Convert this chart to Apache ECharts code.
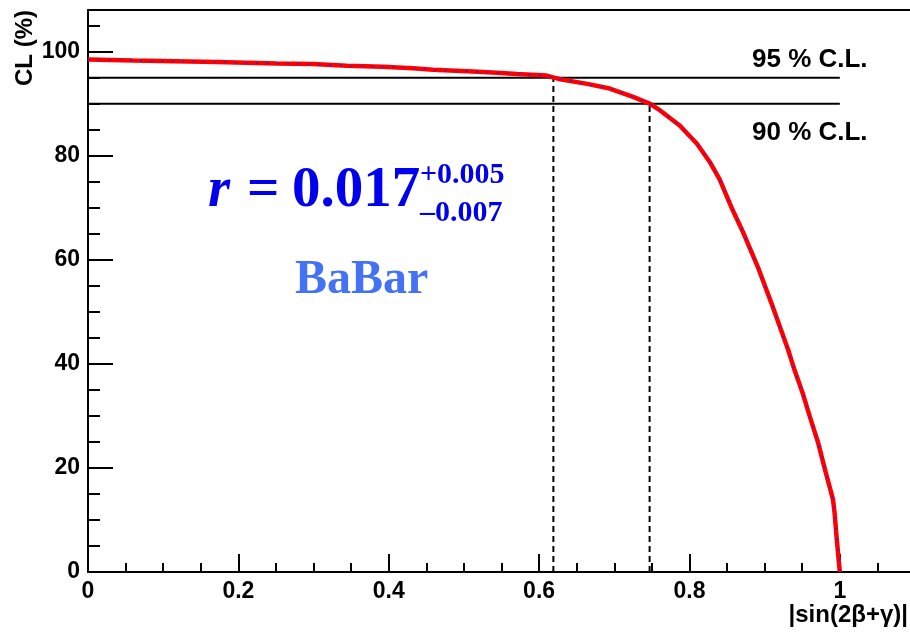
<!DOCTYPE html>
<html><head><meta charset="utf-8">
<script src="https://cdn.jsdelivr.net/npm/echarts@6/dist/echarts.min.js"></script>
<style>html,body{margin:0;padding:0;background:#fff;overflow:hidden}#c{width:915px;height:633px}</style>
</head><body><div id="c"></div>
<script>
// ---- data ----
const sinValues = [0.000, 0.060, 0.171, 0.251, 0.299, 0.344, 0.392, 0.432, 0.459, 0.512, 0.544, 0.570, 0.610, 0.620,
  0.628, 0.664, 0.694, 0.725, 0.747, 0.761, 0.787, 0.810, 0.827, 0.840, 0.857, 0.871, 0.891, 0.911, 0.931, 0.940,
  0.951, 0.960, 0.971, 0.981, 0.991, 0.993, 0.996, 1.000];
const clValues = [98.5, 98.3, 98.0, 97.7, 97.6, 97.3, 97.1, 96.8, 96.5, 96.2, 95.95, 95.7, 95.4, 95.0,
  94.7, 93.8, 92.9, 91.3, 90.0, 88.7, 85.8, 82.3, 78.8, 75.5, 69.7, 65.4, 58.6, 50.9, 42.8, 38.7,
  34.2, 29.9, 24.9, 19.3, 13.9, 11.4, 6.2, 0.0];
const clLevels = [95, 90];
const clLevelLabels = ['95 % C.L.', '90 % C.L.'];
const limitValues = [0.619, 0.747];
const xRange = [0, 1.1], yRange = [0, 108];
const xMajor = 0.2, xMinor = 0.05, yMajor = 20, yMinor = 5;
const xTitle = '|sin(2\u03B2+\u03B3)|';
const yTitle = 'CL (%)';
const fitText = { r: 'r', eq: '=', val: '0.017', up: '+0.005', down: '\u20130.007', exp: 'BaBar' };

// ---- chart ----
const chart = echarts.init(document.getElementById('c'), null, { renderer: 'canvas' });
const curve = sinValues.map((x, i) => [x, clValues[i]]);
const sansB = '"Liberation Sans", Arial, sans-serif';
const serif = '"Liberation Serif", "Times New Roman", serif';
const gridPos = { left: 88, top: 10, right: 0, bottom: 61 };

const series = [
  { type: 'line', xAxisIndex: 0, yAxisIndex: 0, data: curve, showSymbol: false, silent: true,
    lineStyle: { color: '#ff0000', width: 4.5 }, z: 5 },
  { type: 'line', xAxisIndex: 0, yAxisIndex: 0, data: curve, showSymbol: false, silent: true,
    lineStyle: { color: '#1a1aff', width: 1.6, type: [1.5, 9] }, z: 6 }
];
clLevels.forEach(lv => series.push({ type: 'line', data: [[0, lv], [1, lv]], showSymbol: false, silent: true,
  lineStyle: { color: '#000', width: 2 }, z: 3 }));
limitValues.forEach((x, i) => series.push({ type: 'line', data: [[x, 0], [x, clLevels[i]]], showSymbol: false, silent: true,
  lineStyle: { color: '#000', width: 2, type: [6, 4] }, z: 3 }));

const option = {
  animation: false,
  backgroundColor: '#ffffff',
  grid: [Object.assign({}, gridPos), Object.assign({}, gridPos)],
  xAxis: [
    { type: 'value', gridIndex: 0, position: 'bottom', min: xRange[0], max: xRange[1], interval: xMajor,
      axisLine: { show: true, lineStyle: { color: '#000', width: 2 } },
      axisTick: { show: true, inside: true, length: 18, lineStyle: { color: '#000', width: 2 } },
      axisLabel: { show: true, color: '#000', fontFamily: sansB, fontWeight: 'bold', fontSize: 23, margin: 8,
        showMaxLabel: false },
      splitLine: { show: false } },
    { type: 'value', gridIndex: 0, position: 'top', min: xRange[0], max: xRange[1],
      axisLine: { show: true, lineStyle: { color: '#000', width: 2 } },
      axisTick: { show: false }, axisLabel: { show: false }, splitLine: { show: false } },
    { type: 'value', gridIndex: 1, position: 'bottom', min: xRange[0], max: xRange[1], interval: xMinor,
      axisLine: { show: false },
      axisTick: { show: true, inside: true, length: 9, lineStyle: { color: '#000', width: 2 } },
      axisLabel: { show: false }, splitLine: { show: false } }
  ],
  yAxis: [
    { type: 'value', gridIndex: 0, min: yRange[0], max: yRange[1], interval: yMajor,
      axisLine: { show: true, lineStyle: { color: '#000', width: 2 } },
      axisTick: { show: true, inside: true, length: 25, lineStyle: { color: '#000', width: 2 } },
      axisLabel: { show: true, color: '#000', fontFamily: sansB, fontWeight: 'bold', fontSize: 23, margin: 8,
        showMaxLabel: false },
      splitLine: { show: false } },
    { type: 'value', gridIndex: 1, min: yRange[0], max: yRange[1], interval: yMinor,
      axisLine: { show: false },
      axisTick: { show: true, inside: true, length: 12, lineStyle: { color: '#000', width: 2 } },
      axisLabel: { show: false }, splitLine: { show: false } }
  ],
  series: series,
  graphic: [
    { type: 'text', x: 25, y: 10, rotation: Math.PI / 2,
      style: { text: yTitle, font: 'bold 24px ' + sansB, fill: '#000', textAlign: 'right', textVerticalAlign: 'middle' } },
    { type: 'text', x: 908, y: 615,
      style: { text: xTitle, font: 'bold 24px ' + sansB, fill: '#000', textAlign: 'right', textVerticalAlign: 'middle' } },
    { type: 'text', x: 752, y: 60,
      style: { text: clLevelLabels[0], font: 'bold 26px ' + sansB, fill: '#000', textAlign: 'left', textVerticalAlign: 'middle' } },
    { type: 'text', x: 752, y: 133,
      style: { text: clLevelLabels[1], font: 'bold 26px ' + sansB, fill: '#000', textAlign: 'left', textVerticalAlign: 'middle' } },
    { type: 'text', x: 208, y: 191,
      style: { text: fitText.r, font: 'italic bold 57px ' + serif, fill: '#0000ee', textAlign: 'left', textVerticalAlign: 'middle' } },
    { type: 'text', x: 247, y: 191,
      style: { text: fitText.eq, font: 'bold 57px ' + serif, fill: '#0000ee', textAlign: 'left', textVerticalAlign: 'middle' } },
    { type: 'text', x: 292, y: 191,
      style: { text: fitText.val, font: 'bold 57px ' + serif, fill: '#0000ee', textAlign: 'left', textVerticalAlign: 'middle' } },
    { type: 'text', x: 420, y: 175,
      style: { text: fitText.up, font: 'bold 30px ' + serif, fill: '#0000ee', textAlign: 'left', textVerticalAlign: 'middle' } },
    { type: 'text', x: 420, y: 213,
      style: { text: fitText.down, font: 'bold 30px ' + serif, fill: '#0000ee', textAlign: 'left', textVerticalAlign: 'middle' } },
    { type: 'text', x: 295, y: 281,
      style: { text: fitText.exp, font: 'bold 48px ' + serif, fill: '#4472f4', textAlign: 'left', textVerticalAlign: 'middle' } }
  ]
};
chart.setOption(option);
</script>
</body></html>
